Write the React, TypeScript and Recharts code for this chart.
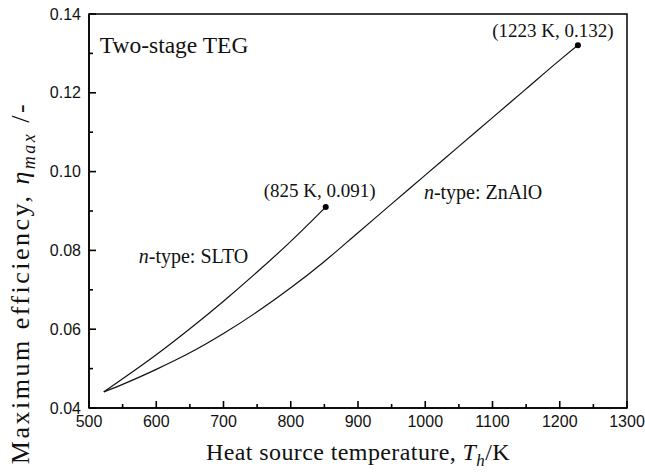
import { LineChart, Line, XAxis, YAxis, ReferenceArea, ReferenceDot } from "recharts";

// temperatures (K) and max efficiency
const sltoTemp = [522, 550, 600, 650, 700, 750, 800, 852];
const sltoEff = [0.0441, 0.0474, 0.0535, 0.0601, 0.0671, 0.0745, 0.0823, 0.091];

const znaloTemp = [522, 550, 600, 650, 700, 750, 800, 850, 900, 950, 1000, 1050, 1100, 1150, 1200, 1227];
const znaloEff = [
  0.0441, 0.046, 0.0498, 0.054, 0.0589, 0.0644, 0.0705, 0.0772, 0.0845, 0.0918, 0.0991, 0.1064, 0.1137, 0.121,
  0.1283, 0.1321,
];

const xTicks = [500, 550, 600, 650, 700, 750, 800, 850, 900, 950, 1000, 1050, 1100, 1150, 1200, 1250, 1300];
const yTicks = [0.04, 0.05, 0.06, 0.07, 0.08, 0.09, 0.1, 0.11, 0.12, 0.13, 0.14];

const sltoEnd = { t: sltoTemp[sltoTemp.length - 1], v: sltoEff[sltoEff.length - 1], text: "(825 K, 0.091)" };
const znaloEnd = { t: znaloTemp[znaloTemp.length - 1], v: znaloEff[znaloEff.length - 1], text: "(1223 K, 0.132)" };

const slto = sltoTemp.map((t, i) => ({ t, v: sltoEff[i] }));
const znalo = znaloTemp.map((t, i) => ({ t, v: znaloEff[i] }));

const SERIF = '"Liberation Serif", "Times New Roman", serif';
const SANS = '"Liberation Sans", Arial, sans-serif';
const MARGIN = 8;

const XTick = (props: any) => {
  const { x, y, payload } = props;
  const major = payload.value % 100 === 0;
  return (
    <g>
      <line x1={x} x2={x} y1={y - MARGIN} y2={y - MARGIN - (major ? 7 : 4)} stroke="#000" strokeWidth={1.6} />
      {major && (
        <text x={x} y={y} dy="0.71em" textAnchor="middle" fontFamily={SANS} fontSize={16} fill="#111">
          {payload.value}
        </text>
      )}
    </g>
  );
};

const YTick = (props: any) => {
  const { x, y, payload } = props;
  const major = Math.round(payload.value * 100) % 2 === 0;
  return (
    <g>
      <line x1={x + MARGIN} x2={x + MARGIN + (major ? 7 : 4)} y1={y} y2={y} stroke="#000" strokeWidth={1.6} />
      {major && (
        <text x={x} y={y} dy="0.355em" textAnchor="end" fontFamily={SANS} fontSize={16} fill="#111">
          {payload.value.toFixed(2)}
        </text>
      )}
    </g>
  );
};

const XTitle = ({ viewBox }: any) => (
  <text
    x={viewBox.x + viewBox.width / 2}
    y={viewBox.y + 52}
    textAnchor="middle"
    fontFamily={SERIF}
    fontSize={24}
    letterSpacing={0.4}
    fill="#111"
  >
    Heat source temperature, <tspan fontStyle="italic">T</tspan>
    <tspan fontStyle="italic" fontSize={17} dy={6}>h</tspan>
    <tspan dy={-6}>/K</tspan>
  </text>
);

const YTitle = ({ viewBox }: any) => {
  const cx = viewBox.x + 29;
  const cy = viewBox.y + viewBox.height / 2 + 72;
  return (
    <text
      x={cx}
      y={cy}
      transform={`rotate(-90, ${cx}, ${cy})`}
      textAnchor="middle"
      fontFamily={SERIF}
      fontSize={26}
      letterSpacing={2.5}
      fill="#111"
    >
      Maximum efficiency,  <tspan fontStyle="italic">η</tspan>
      <tspan fontStyle="italic" fontSize={18} dy={6}>max</tspan>
      <tspan dy={-6}> /-</tspan>
    </text>
  );
};

const note = (text: string, dx: number, dy: number, anchor: string, size: number, dot: boolean, italicN = false) =>
  (props: any) => {
    const { cx, cy } = props;
    return (
      <g>
        {dot && <circle cx={cx} cy={cy} r={3} fill="#000" />}
        <text x={cx + dx} y={cy + dy} textAnchor={anchor} fontFamily={SERIF} fontSize={size} fill="#111">
          {italicN ? (
            <>
              <tspan fontStyle="italic">n</tspan>
              {text}
            </>
          ) : (
            text
          )}
        </text>
      </g>
    );
  };

export default function App() {
  return (
    <div style={{ position: "absolute", left: 0, top: 0, width: 645, height: 473, background: "#fff" }}>
      <LineChart width={645} height={473} margin={{ top: 14, right: 18, bottom: 0, left: 0 }}>
        <XAxis
          dataKey="t"
          type="number"
          domain={[500, 1300]}
          ticks={xTicks}
          interval={0}
          tickSize={0}
          tickMargin={MARGIN}
          tickLine={false}
          tick={<XTick />}
          height={65}
          axisLine={{ stroke: "#000", strokeWidth: 1.5 }}
          allowDuplicatedCategory={false}
          label={{ content: XTitle }}
        />
        <YAxis
          type="number"
          domain={[0.04, 0.14]}
          ticks={yTicks}
          interval={0}
          tickSize={0}
          tickMargin={MARGIN}
          tickLine={false}
          tick={<YTick />}
          width={89}
          axisLine={{ stroke: "#000", strokeWidth: 1.5 }}
          allowDataOverflow
          label={{ content: YTitle }}
        />
        <ReferenceArea x1={500} x2={1300} y1={0.04} y2={0.14} stroke="#000" strokeWidth={1.5} fill="none" fillOpacity={0} />
        <Line data={slto} dataKey="v" type="monotone" stroke="#111" strokeWidth={1.2} dot={false} isAnimationActive={false} />
        <Line data={znalo} dataKey="v" type="monotone" stroke="#111" strokeWidth={1.2} dot={false} isAnimationActive={false} />
        <ReferenceDot x={sltoEnd.t} y={sltoEnd.v} r={3} shape={note(sltoEnd.text, -6, -10, "middle", 19, true)} />
        <ReferenceDot x={znaloEnd.t} y={znaloEnd.v} r={3} shape={note(znaloEnd.text, -25, -8, "middle", 19, true)} />
        <ReferenceDot x={516} y={0.13} r={0} shape={note("Two-stage TEG", 0, 0, "start", 23.5, false)} />
        <ReferenceDot x={574} y={0.0767} r={0} shape={note("-type: SLTO", 0, 0, "start", 20, false, true)} />
        <ReferenceDot x={998} y={0.0931} r={0} shape={note("-type: ZnAlO", 0, 0, "start", 20, false, true)} />
      </LineChart>
    </div>
  );
}
